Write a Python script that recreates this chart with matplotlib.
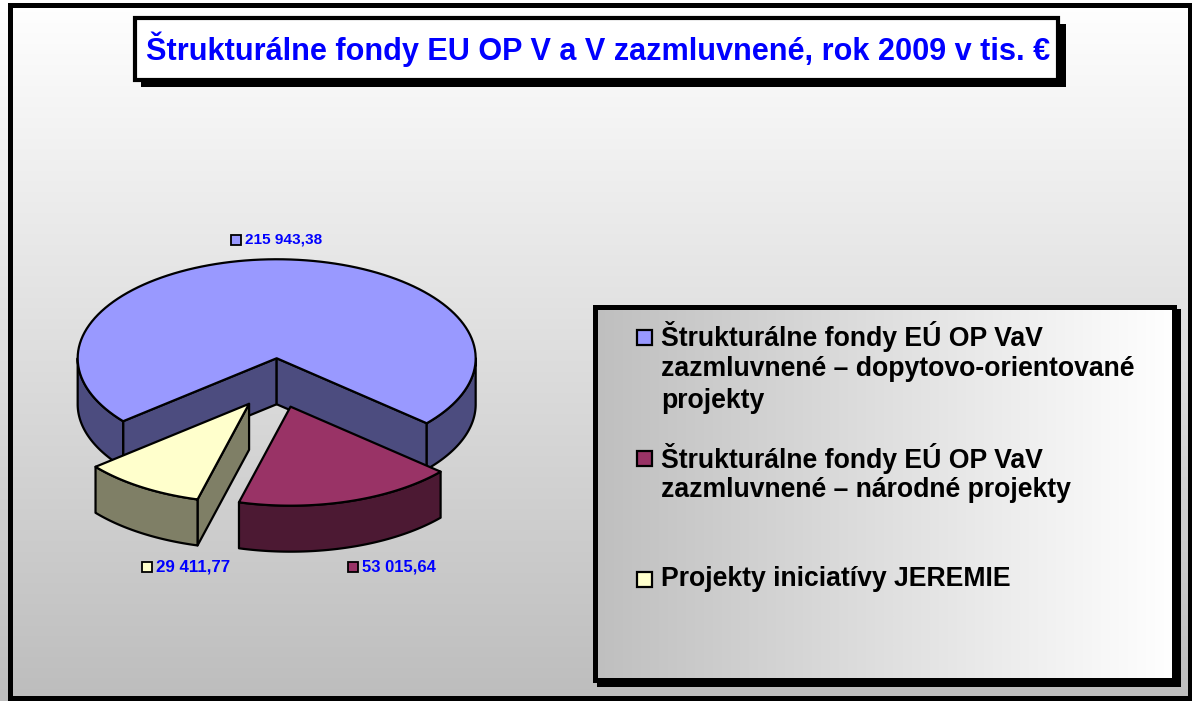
import numpy as np
import matplotlib
matplotlib.use("Agg")
import matplotlib.pyplot as plt
from matplotlib.patches import Rectangle, Polygon
from matplotlib.colors import LinearSegmentedColormap

# ---------------- data ----------------
title = "Štrukturálne fondy EU OP V a V zazmluvnené, rok 2009 v tis. €"
categories = [
    "Štrukturálne fondy EÚ OP VaV\nzazmluvnené – dopytovo-orientované\nprojekty",
    "Štrukturálne fondy EÚ OP VaV\nzazmluvnené – národné projekty",
    "Projekty iniciatívy JEREMIE",
]
values = [215943.38, 53015.64, 29411.77]
top_colors = ["#9999FF", "#993366", "#FFFFCC"]
side_colors = ["#4C4C7F", "#4C1933", "#7F7F66"]

plt.rcParams['font.family'] = ['Liberation Sans', 'DejaVu Sans']

W, H = 1192, 701
fig = plt.figure(figsize=(W / 100, H / 100), dpi=100)
ax = fig.add_axes([0, 0, 1, 1])
ax.set_xlim(0, W)
ax.set_ylim(H, 0)
ax.axis('off')
renderer = fig.canvas.get_renderer()


def fit(t, target):
    w = t.get_window_extent(renderer).width
    t.set_fontsize(t.get_fontsize() * target / w)


# ---------------- background ----------------
bg_cmap = LinearSegmentedColormap.from_list("bg", ["#ffffff", "#bdbdbd"])
grad = np.linspace(0, 1, 256)[:, None]
ax.imshow(grad, extent=[0, W, H, 0], cmap=bg_cmap, aspect='auto', zorder=0,
          interpolation='bilinear')

# ---------------- 3D pie ----------------
CX, CY = 276, 383
RX, RY = 199, 99
DEPTH = 46
EXPLODE = 0.25
START = 219.5
LW = 1.6

fr = np.array(values) / np.sum(values)
a1s = START - 360 * np.concatenate([[0], np.cumsum(fr)[:-1]])
a2s = a1s - 360 * fr


def pt(cx, cy, a, dz=0.0):
    r = np.radians(a)
    return cx + RX * np.cos(r), cy - RY * np.sin(r) + dz


def arc(cx, cy, t1, t2, dz=0.0, n=120):
    ts = np.linspace(t1, t2, n)
    r = np.radians(ts)
    return np.column_stack([cx + RX * np.cos(r), cy - RY * np.sin(r) + dz])


def draw_slice(i, z):
    a1, a2 = a1s[i], a2s[i]
    m = np.radians((a1 + a2) / 2)
    cx = CX + EXPLODE * RX * np.cos(m)
    cy = CY - EXPLODE * RY * np.sin(m)
    side = side_colors[i]
    kw = dict(ec='black', lw=LW, joinstyle='round', zorder=z)
    # radial walls (front-facing only)
    for a, vis in ((a1, np.cos(np.radians(a1)) < 0), (a2, np.cos(np.radians(a2)) > 0)):
        if vis:
            p1 = (cx, cy)
            p2 = pt(cx, cy, a)
            quad = [p1, p2, (p2[0], p2[1] + DEPTH), (cx, cy + DEPTH)]
            ax.add_patch(Polygon(quad, closed=True, fc=side, **kw))
    # curved outer wall (front half only)
    for k in (-1, 0, 1):
        lo, hi = -180 + 360 * k, 0 + 360 * k
        b1, b2 = max(a2, lo), min(a1, hi)
        if b2 > b1:
            topa = arc(cx, cy, b2, b1)
            bota = arc(cx, cy, b1, b2, dz=DEPTH)
            ax.add_patch(Polygon(np.vstack([topa, bota]), closed=True, fc=side, **kw))
    # top face
    top = np.vstack([[cx, cy], arc(cx, cy, a1, a2)])
    ax.add_patch(Polygon(top, closed=True, fc=top_colors[i], **kw))


draw_slice(0, 3)
draw_slice(2, 4)
draw_slice(1, 4)


# ---------------- data labels ----------------
def fmt(v):
    return f"{v:,.2f}".replace(",", " ").replace(".", ",")


label_pos = [(245, 240), (362, 567), (156, 567)]
for i, (x, y) in enumerate(label_pos):
    t = ax.text(x, y, fmt(values[i]), color='#0000FF', fontweight='bold',
                fontsize=11, ha='left', va='center', zorder=10)
    fit(t, 77 if i == 0 else 74)
    ax.add_patch(Rectangle((x - 14, y - 5), 10, 10, fc=top_colors[i], ec='black',
                           lw=1.3, zorder=10))

# ---------------- title box ----------------
ax.add_patch(Rectangle((141, 24), 925, 63, fc='black', ec='none', zorder=8))
ax.add_patch(Rectangle((135, 18), 923, 62, fc='white', ec='black', lw=3, zorder=9))
tt = ax.text(598, 49, title, color='#0000FF', fontweight='bold', fontsize=20,
             ha='center', va='center', zorder=10)
fit(tt, 903)

# ---------------- legend box ----------------
LX0, LY0, LX1, LY1 = 594.5, 306.5, 1173.5, 679.5
ax.add_patch(Rectangle((LX0 + 4, LY0 + 4), LX1 - LX0, LY1 - LY0, fc='black',
                       ec='black', lw=3.6, zorder=8))
lg_cmap = LinearSegmentedColormap.from_list("lg", ["#bfbfbf", "#ffffff"])
ax.imshow(np.linspace(0, 1, 256)[None, :], extent=[LX0, LX1, LY1, LY0],
          cmap=lg_cmap, aspect='auto', zorder=9, interpolation='bilinear')
ax.add_patch(Rectangle((LX0, LY0), LX1 - LX0, LY1 - LY0, fill=False,
                       ec='black', lw=3.6, zorder=10))
ax.set_xlim(0, W)
ax.set_ylim(H, 0)

entry_y = [337, 458, 579]
PITCH = 32
probe = ax.text(661, 337, categories[0].split("\n")[0], fontweight='bold',
                fontsize=18, ha='left', va='center')
fit(probe, 382)
lfs = probe.get_fontsize()
probe.remove()
for i, lab in enumerate(categories):
    for k, line in enumerate(lab.split("\n")):
        ax.text(661, entry_y[i] + k * PITCH, line, fontweight='bold', fontsize=lfs,
                ha='left', va='center', color='black', zorder=11)
    ax.add_patch(Rectangle((637, entry_y[i] - 7.5), 15, 15, fc=top_colors[i],
                           ec='black', lw=1.6, zorder=11))

# ---------------- outer frame ----------------
ax.add_patch(Rectangle((10, 5), 1180, 693, fill=False, ec='black', lw=3.6, zorder=20))

fig.savefig("out.png", dpi=100)
